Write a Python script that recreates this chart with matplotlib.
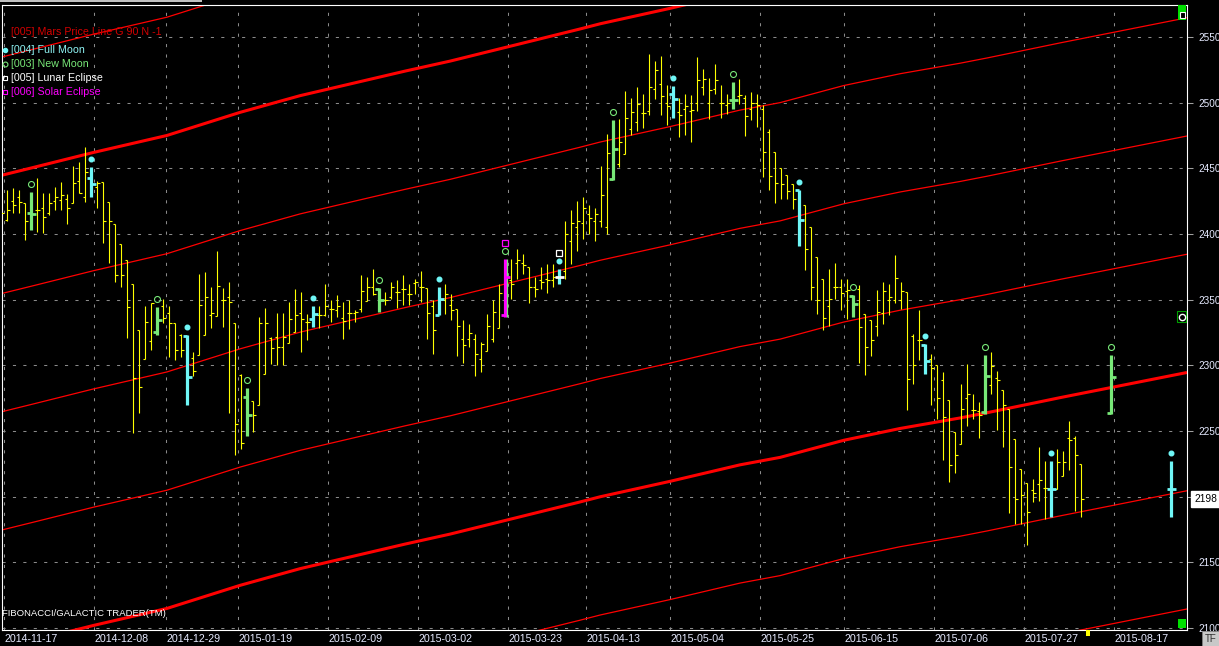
import matplotlib
matplotlib.use("Agg")
import matplotlib.pyplot as plt
import matplotlib.transforms as mtransforms
from matplotlib.patches import Rectangle
from matplotlib.lines import Line2D
import numpy as np

plt.rcParams['font.family'] = ['Liberation Sans', 'DejaVu Sans']

# ---------------- data ----------------
bar_open = [2425, 2411, 2425, 2428, 2423.3, 2415.7, 2418, 2420, 2415.7, 2425,
            2425.8, 2427, 2423.3, 2440.5, 2428, 2442.3, 2436, 2439.8, 2424.6, 2407.3,
            2392.1, 2380.2, 2361.7, 2326.9, 2304.6, 2318.8, 2325.6, 2345, 2340, 2332,
            2323, 2322.3, 2306, 2307.9, 2323.1, 2338.3, 2337.8, 2349.7, 2352, 2332,
            2292.7, 2275.7, 2273, 2269.8, 2293.4, 2320.6, 2321.8, 2314.2, 2317.3, 2325.6,
            2340, 2333, 2335.5, 2338, 2338, 2343, 2341.8, 2336, 2340, 2340,
            2343, 2349, 2360, 2358.3, 2350, 2352, 2356, 2358, 2354, 2363,
            2360, 2359.1, 2345, 2338, 2350, 2346, 2343.1, 2320, 2320, 2320,
            2305, 2310.9, 2320, 2328.7, 2338, 2365, 2378, 2378, 2374.8, 2360,
            2365, 2366, 2365, 2367, 2372, 2395, 2405, 2408, 2415, 2410,
            2410, 2405, 2442, 2453.5, 2461.1, 2480, 2485, 2492, 2493.4, 2510,
            2514.4, 2500, 2506.3, 2493, 2495, 2494, 2500, 2512, 2500, 2510,
            2500, 2498, 2502.3, 2505, 2503.8, 2495, 2500, 2495, 2478, 2462.5,
            2450.5, 2444.7, 2438.4, 2433.3, 2421.9, 2405.4, 2382.5, 2366, 2345, 2360,
            2359.7, 2357, 2352.6, 2358, 2339.4, 2334.4, 2330, 2340, 2350, 2349.6,
            2350, 2355.8, 2322, 2319, 2315.7, 2305, 2300, 2288.6, 2274, 2249.2,
            2239.8, 2275, 2266.2, 2265, 2264.5, 2285, 2290.6, 2281, 2267, 2244.2,
            2221.3, 2210.4, 2205, 2210, 2206.8, 2206.1, 2206, 2215.5, 2245, 2245,
            2224.6]
bar_high = [2433, 2433.5, 2434.7, 2433.5, 2423.8, 2432, 2443, 2431.4, 2431, 2435.5,
            2439.8, 2430.2, 2451.7, 2455, 2466, 2451.2, 2440, 2439.8, 2424.6, 2407.3,
            2392.1, 2380.2, 2361.7, 2326.9, 2345.2, 2347.2, 2344.6, 2350.2, 2345.2, 2332,
            2323.6, 2323.1, 2310, 2369.5, 2371.3, 2359.9, 2387, 2358.6, 2363.2, 2332,
            2293.6, 2283, 2273, 2337, 2343.4, 2321.8, 2339.6, 2339.6, 2348, 2357.8,
            2355.8, 2339.3, 2344.9, 2344.9, 2361.6, 2349.5, 2353.3, 2348.2, 2349.5, 2341.9,
            2369, 2367.2, 2373.6, 2359, 2355.8, 2363.4, 2364.7, 2368.5, 2362.2, 2366,
            2371.8, 2359.1, 2349.5, 2359.6, 2362.2, 2354.5, 2343.1, 2334.2, 2331.7, 2324.1,
            2317.7, 2339.3, 2350, 2362.2, 2381.2, 2381.2, 2388.8, 2385, 2374.8, 2367.2,
            2374.8, 2377.4, 2377.4, 2373.6, 2410, 2418, 2425, 2428, 2422, 2420,
            2451.5, 2476.4, 2487, 2487.8, 2508.6, 2503.8, 2511.9, 2506.3, 2537.3, 2531.4,
            2535.2, 2513.1, 2512.4, 2503.8, 2506.3, 2505.5, 2534.7, 2525.3, 2518.7, 2529.1,
            2513.1, 2506.8, 2515.7, 2518.2, 2505.6, 2508, 2506.8, 2498, 2480.2, 2462.5,
            2450.5, 2444.7, 2438.4, 2433.8, 2421.9, 2405.4, 2382.5, 2366, 2373.7, 2378,
            2366, 2366, 2353.4, 2361, 2339.4, 2334.4, 2357.7, 2363.5, 2362.2, 2383.8,
            2363.5, 2355.8, 2324.1, 2341.8, 2316, 2308.9, 2300, 2294.9, 2274, 2249.2,
            2286, 2301.2, 2278.4, 2272, 2307.6, 2310.1, 2295.7, 2281.4, 2267, 2244.2,
            2221.3, 2210.4, 2213.7, 2237.8, 2227.2, 2227.2, 2236.5, 2234.8, 2257.4, 2246,
            2224.6]
bar_low = [2409, 2410, 2416.2, 2415.7, 2395.4, 2403, 2401.7, 2400.5, 2414.4, 2418.2,
           2418.2, 2407.6, 2423.3, 2431.4, 2424.6, 2428.4, 2420, 2393.4, 2378, 2363.7,
           2359.9, 2320.6, 2248.3, 2263.5, 2304.6, 2311.7, 2323.1, 2332, 2306.1, 2304,
           2306.6, 2269.8, 2292, 2307.9, 2323.1, 2328.2, 2337.8, 2329.5, 2263.5, 2232,
           2236, 2246.2, 2249.5, 2269.8, 2293.4, 2301, 2300.3, 2300.3, 2317.3, 2325.6,
           2310.1, 2319, 2329.2, 2328.7, 2337.3, 2333, 2336.8, 2320.3, 2327.9, 2333,
           2340.6, 2349, 2353.3, 2341, 2345.7, 2350.7, 2343.9, 2345.7, 2345.7, 2354.5,
           2348.2, 2320.3, 2308.9, 2338, 2339.3, 2334.2, 2307.1, 2301.8, 2314, 2291.9,
           2294.9, 2310.9, 2317.7, 2328.7, 2336.8, 2350.7, 2366, 2369.8, 2347.4, 2352,
           2358.3, 2355, 2359.6, 2361.6, 2366, 2377, 2387, 2396, 2400, 2395,
           2405, 2400, 2440.8, 2451, 2461.1, 2475.1, 2478.4, 2480.9, 2490.3, 2503,
           2490.3, 2482.7, 2488.5, 2473.8, 2475.1, 2470, 2493.6, 2505.5, 2487.8, 2506.8,
           2488.5, 2491.1, 2495.4, 2499.2, 2474.3, 2486.5, 2481.4, 2443.4, 2433.2, 2423.6,
           2427, 2427, 2419.3, 2390.7, 2372.4, 2349.5, 2339.4, 2327.2, 2329.8, 2350.8,
           2342, 2335.6, 2336.9, 2301.9, 2292.5, 2307, 2322.2, 2331.8, 2338.1, 2347.5,
           2343.2, 2265.7, 2286, 2303.8, 2293.6, 2269.5, 2259.4, 2227.7, 2211.2, 2218,
           2239.8, 2253.5, 2259.4, 2244.9, 2263.2, 2277.9, 2250.5, 2237.8, 2187.6, 2179.5,
           2179.5, 2163, 2196, 2196.7, 2183.3, 2184.5, 2206, 2215.5, 2220.6, 2189.1,
           2184.5]
bar_close = [2416, 2418, 2422, 2424.6, 2410, 2415.2, 2418.2, 2413, 2423.3, 2428.4,
             2429.6, 2419.5, 2438.5, 2431.4, 2447, 2437.8, 2439, 2409.9, 2409.9, 2368.8,
             2368.8, 2344.6, 2290.1, 2283.3, 2333.2, 2347.2, 2334.5, 2336, 2332, 2312,
             2312, 2291.4, 2296, 2345.9, 2352.3, 2339.6, 2360.4, 2349.7, 2348, 2255.4,
             2240.6, 2262.2, 2262, 2332, 2332, 2312.9, 2314.2, 2321.8, 2335.3, 2338.3,
             2335.5, 2333, 2339.3, 2338, 2345, 2343, 2345, 2334, 2339.8, 2340.6,
             2357, 2360, 2354.5, 2350, 2349.5, 2360, 2355.8, 2358.3, 2354.5, 2363.4,
             2359.6, 2340, 2327, 2350.7, 2354.5, 2341.8, 2330, 2315.2, 2324.6, 2308.9,
             2316.5, 2330, 2340.6, 2355, 2367.2, 2362.2, 2380, 2376.1, 2360, 2358.3,
             2363.4, 2364.7, 2367.2, 2367, 2400, 2408, 2410, 2420, 2412, 2415,
             2429.4, 2462, 2465, 2470, 2488.5, 2492.9, 2499.2, 2492, 2511.9, 2525.1,
             2505, 2497.2, 2503, 2490.3, 2497.2, 2494.1, 2517, 2518.2, 2509.3, 2517.5,
             2499.7, 2499.7, 2502.3, 2505.5, 2490, 2499.7, 2497.9, 2462.4, 2443.9, 2438.9,
             2438.4, 2432.5, 2427, 2410.4, 2388.9, 2359.7, 2349.5, 2336.4, 2350.8, 2359.7,
             2355, 2357.2, 2346.5, 2329.3, 2314, 2319, 2340.7, 2356.7, 2352.1, 2366.8,
             2356.7, 2289.8, 2300, 2319, 2303, 2298.2, 2275, 2260.6, 2223.9, 2231.5,
             2267, 2278.4, 2266.2, 2262, 2291.6, 2299.2, 2288.6, 2270, 2222.6, 2198.5,
             2201, 2188.3, 2202.8, 2212.4, 2206.8, 2206.1, 2226.4, 2226.4, 2242.9, 2231.5,
             2198]

full_moon_bars = [15, 31, 52, 73, 93, 112, 133, 154, 175]
new_moon_bars = [5, 26, 41, 63, 84, 102, 122, 142, 164]
lunar_eclipse_bars = [93]
solar_eclipse_bars = [84]

proj_bars = [185, 195]
proj_kind = ['new', 'full']
proj_open = [2263.7, 2206.0]
proj_high = [2307.6, 2227.2]
proj_low = [2263.2, 2184.5]
proj_close = [2291.1, 2206.0]

mars_bar = [-0.2, 5.3, 15.3, 27.6, 39.8, 49.8, 67.3, 74.8, 96.4, 99.8,
            111.4, 123.1, 129.8, 140.4, 149.8, 159.8, 164.3, 176.5, 197.6]
mars_base = [2444.4, 2450.6, 2462.0, 2475.0, 2492.6, 2505.3, 2524.0, 2531.6, 2556.0, 2560.0,
             2571.7, 2584.3, 2590.0, 2603.0, 2612.0, 2620.0, 2624.0, 2635.5, 2654.6]
mars_step = 90
mars_harmonics = [1, 0, -1, -2, -3, -4, -5, -6]

date_labels = ['2014-11-17', '2014-12-08', '2014-12-29', '2015-01-19', '2015-02-09',
               '2015-03-02', '2015-03-23', '2015-04-13', '2015-05-04', '2015-05-25',
               '2015-06-15', '2015-07-06', '2015-07-27', '2015-08-17']
date_bars = [1, 16, 28, 40, 55, 70, 85, 98, 112, 127, 141, 156, 171, 186]
price_ticks = [2100, 2150, 2200, 2250, 2300, 2350, 2400, 2450, 2500, 2550]

legend_items = ['[005] Mars Price Line G 90 N -1', '[004] Full Moon', '[003] New Moon',
                '[005] Lunar Eclipse', '[006] Solar Eclipse']

# ---------------- styles ----------------
YELLOW = '#ffff00'
CYAN = '#6ff6f6'
GREEN = '#78e878'
MAGENTA = '#ff00ff'
WHITE = '#ffffff'
RED = '#ff0000'
GRID = '#8a8a8a'
TXT = '#e6eaff'

W, H = 1219, 646
fig = plt.figure(figsize=(W / 100, H / 100), dpi=100, facecolor='black')


def fx(px):
    return px / W


def fy(py):
    return 1 - py / H


def rect_px(x0, y0, x1, y1, **kw):
    r = Rectangle((fx(x0), fy(y1)), fx(x1) - fx(x0), fy(y0) - fy(y1),
                  transform=fig.transFigure, **kw)
    fig.add_artist(r)
    return r


ax = fig.add_axes([fx(2), fy(630), fx(1187) - fx(2), fy(5) - fy(630)])
ax.set_facecolor('black')
ax.set_xlim(0.12, 197.6)
ax.set_ylim(2098.6, 2574.3)

o = np.array(bar_open)
hi = np.array(bar_high)
lo = np.array(bar_low)
c = np.array(bar_close)
idx = np.arange(len(o))

special = {}
for i in full_moon_bars:
    special[i] = CYAN
for i in new_moon_bars:
    special[i] = GREEN
for i in solar_eclipse_bars:
    special[i] = MAGENTA

norm = np.array([i for i in idx if i not in special])
tw = 0.45
ax.vlines(norm, lo[norm], hi[norm], color=YELLOW, lw=0.8, zorder=3)
ax.hlines(o[norm], norm - tw, norm, color=YELLOW, lw=0.8, zorder=3)
ax.hlines(c[norm], norm, norm + tw, color=YELLOW, lw=0.8, zorder=3)

# Mars price lines
mb = np.array(mars_base)
for k in mars_harmonics:
    thick = (k % 4 == 0)
    ax.plot(mars_bar, mb + mars_step * k, color=RED, lw=2.2 if thick else 0.9,
            zorder=2, solid_capstyle='butt')


def draw_special(xs, opens, highs, lows, closes, col, tick_col=None):
    tick_col = tick_col or col
    xs = np.array(xs, dtype=float)
    ax.vlines(xs, lows, highs, color=col, lw=2.3, zorder=4)
    ax.hlines(opens, xs - 0.7, xs, color=tick_col, lw=2.0, zorder=5)
    ax.hlines(closes, xs, xs + 0.75, color=tick_col, lw=2.0, zorder=5)


for i, col in special.items():
    tick_col = WHITE if i in lunar_eclipse_bars else col
    draw_special([i], [o[i]], [hi[i]], [lo[i]], [c[i]], col, tick_col)
# new moon coinciding with solar eclipse: thin green line beside the magenta bar
for i in solar_eclipse_bars:
    if i in new_moon_bars:
        ax.vlines([i + 0.35], [lo[i]], [hi[i]], color=GREEN, lw=0.9, zorder=4)

for b, kind, po, ph, pl, pc in zip(proj_bars, proj_kind, proj_open, proj_high, proj_low, proj_close):
    draw_special([b], [po], [ph], [pl], [pc], CYAN if kind == 'full' else GREEN)

# markers above highs
up8 = mtransforms.offset_copy(ax.transData, fig=fig, y=8, units='dots')
up16 = mtransforms.offset_copy(ax.transData, fig=fig, y=16, units='dots')
fm_x = list(full_moon_bars) + [b for b, k in zip(proj_bars, proj_kind) if k == 'full']
fm_y = [hi[i] for i in full_moon_bars] + [h for h, k in zip(proj_high, proj_kind) if k == 'full']
nm_x = list(new_moon_bars) + [b for b, k in zip(proj_bars, proj_kind) if k == 'new']
nm_y = [hi[i] for i in new_moon_bars] + [h for h, k in zip(proj_high, proj_kind) if k == 'new']
ax.plot(fm_x, fm_y, 'o', ms=3.3, color=CYAN, mec=CYAN, transform=up8, zorder=6, clip_on=False)
ax.plot(nm_x, nm_y, 'o', ms=4.3, mfc='none', mec=GREEN, mew=0.8, transform=up8, zorder=6)
ax.plot(lunar_eclipse_bars, [hi[i] for i in lunar_eclipse_bars], 's', ms=4.6, mfc='none',
        mec=WHITE, mew=0.9, transform=up16, zorder=6)
ax.plot(solar_eclipse_bars, [hi[i] for i in solar_eclipse_bars], 's', ms=4.6, mfc='none',
        mec=MAGENTA, mew=0.9, transform=up16, zorder=6)

# grid and axes
dash = (0, (3, 7))
last_price = c[-1]
ax.set_yticks(price_ticks)
ax.set_yticklabels(['' if abs(t - last_price) < 20 else str(t) for t in price_ticks])
ax.set_xticks([b - 0.5 for b in date_bars])
ax.set_xticklabels(date_labels)
for lbl in ax.get_xticklabels():
    lbl.set_ha('left')
ax.grid(True, color=GRID, linestyle=dash, lw=0.75, zorder=1)
ax.set_axisbelow(True)
ax.yaxis.tick_right()
ax.tick_params(axis='y', length=4, width=0.75, color='#a0a0a0', pad=4,
               labelsize=7.2, labelcolor=TXT)
ax.tick_params(axis='x', length=0, pad=3, labelsize=7.7, labelcolor=TXT)
for s in ax.spines.values():
    s.set_color(WHITE)
    s.set_linewidth(0.8)

# last price box
blend = mtransforms.blended_transform_factory(ax.transAxes, ax.transData)
ax.text(1.006, last_price, f"{last_price:.0f}", transform=blend, ha='left', va='center',
        color='black', fontsize=7.4, clip_on=False, zorder=10,
        bbox=dict(boxstyle='square,pad=0.3', fc='white', ec='white'))

# legend
leg_cols = ['#d40000', '#8ff4f4', GREEN, WHITE, MAGENTA]
leg_y = [32, 50, 64, 78, 92]
for txt, col, yy in zip(legend_items, leg_cols, leg_y):
    fig.text(fx(11), fy(yy), txt, color=col, fontsize=7.7, va='center', ha='left')
fig.add_artist(Line2D([fx(5)], [fy(50)], marker='o', ms=3, color=CYAN, mec=CYAN,
                      transform=fig.transFigure))
fig.add_artist(Line2D([fx(5)], [fy(64)], marker='o', ms=3.5, mfc='none', mec=GREEN, mew=0.8,
                      transform=fig.transFigure))
fig.add_artist(Line2D([fx(5)], [fy(78)], marker='s', ms=3.5, mfc='none', mec=WHITE, mew=0.8,
                      transform=fig.transFigure))
fig.add_artist(Line2D([fx(5)], [fy(92)], marker='s', ms=3.5, mfc='none', mec=MAGENTA, mew=0.8,
                      transform=fig.transFigure))

fig.text(fx(2), fy(613), 'FIBONACCI/GALACTIC TRADER(TM)', color=WHITE, fontsize=6.8,
         va='center', ha='left')

# window decorations
rect_px(0, 0, 202, 2, color='#c0c0c0', lw=0)
rect_px(1178, 5, 1186, 20, color='#00e000', lw=0)
rect_px(1179.5, 12, 1184.5, 17.5, fc='black', ec='white', lw=0.8)
rect_px(1178, 619, 1186, 628, color='#00e000', lw=0)
rect_px(1177, 311, 1186, 322, fc='black', ec='#00a000', lw=0.8)
fig.add_artist(Line2D([fx(1181.5)], [fy(316.5)], marker='o', ms=4.5, mfc='none', mec='white',
                      mew=1.0, transform=fig.transFigure))
rect_px(1086, 630, 1090, 636, color=YELLOW, lw=0)
rect_px(1202, 631, 1219, 646, fc='#c8c8c8', ec='#808080', lw=0.6)
fig.text(fx(1210.5), fy(639), 'TF', color='#303030', fontsize=7, ha='center', va='center')

fig.savefig('out.png', dpi=100, facecolor='black')
